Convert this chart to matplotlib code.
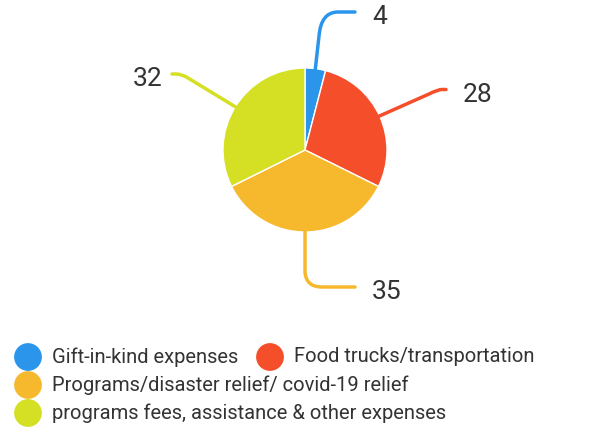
import numpy as np
import matplotlib.pyplot as plt
from matplotlib.path import Path
from matplotlib.patches import PathPatch

plt.rcParams['font.family'] = ['Roboto', 'DejaVu Sans']

categories = ['Gift-in-kind expenses', 'Food trucks/transportation',
              'Programs/disaster relief/ covid-19 relief',
              'programs fees, assistance & other expenses']
values = [4, 28, 35, 32]
colors = ['#2B95EC', '#F44E2A', '#F6B92D', '#D5DF24']

W, H = 598, 433
fig = plt.figure(figsize=(W / 100, H / 100), dpi=100)
ax = fig.add_axes([0, 0, 1, 1])

cx, cy, r = 305, 150, 82
# y axis is inverted below, so startangle=-90 puts the first slice at the top
wedges, _ = ax.pie(values, colors=colors, center=(cx, cy), radius=r,
                   startangle=-90, counterclock=True,
                   wedgeprops=dict(edgecolor='white', linewidth=1))
ax.set_xlim(0, W)
ax.set_ylim(H, 0)
ax.set_aspect('equal')
ax.axis('off')

# leader lines: (knee, corner, after corner, end) and label anchor
leaders = [
    [(319, 36), (321, 12), (338, 12), (355, 12), (372, 17)],
    [(429, 94), (438, 89.5), (442, 89.5), (446, 89.5), (463, 95)],
    [(305, 272), (306, 287), (322, 287), (355, 287), (372, 292)],
    [(188, 78), (182, 74), (176, 74), (172, 74), (162, 79)],
]
for w, c, (k, cc, b, e, lab), v in zip(wedges, colors, leaders, values):
    mid = np.deg2rad((w.theta1 + w.theta2) / 2)
    s = (cx + (r - 1) * np.cos(mid), cy + (r - 1) * np.sin(mid))
    path = Path([s, k, cc, b, e],
                [Path.MOVETO, Path.LINETO, Path.CURVE3, Path.CURVE3, Path.LINETO])
    ax.add_patch(PathPatch(path, fill=False, edgecolor=c, lw=2.5,
                           capstyle='round', joinstyle='round'))
    ha = 'right' if lab[0] < e[0] else 'left'
    ax.text(lab[0], lab[1], str(v), ha=ha, va='center', fontsize=19,
            color='#333333')

# legend drawn as a flow layout like the original
legend_pos = [(28, 357), (270, 357), (28, 385), (28, 413)]
for (x, y), c, name in zip(legend_pos, colors, categories):
    ax.scatter([x], [y], s=400, color=c, edgecolor='none')
    ax.text(x + 24, y, name, ha='left', va='center', fontsize=14.5,
            color='#333333')

fig.savefig('out.png', dpi=100)
